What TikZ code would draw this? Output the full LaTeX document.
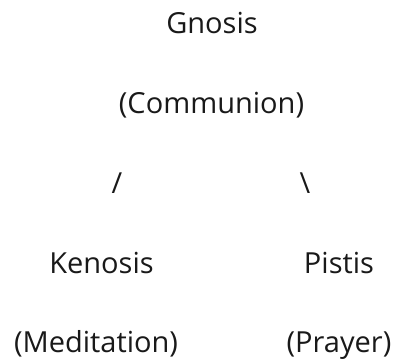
\documentclass[tikz,border=0pt]{standalone}
\usepackage{fontspec}
\setmainfont{Open Sans}
\begin{document}
\begin{tikzpicture}[x=1pt,y=1pt,
  lbl/.style={anchor=base,inner sep=0pt,font=\fontsize{29}{34}\selectfont,text=black!90}]
\useasboundingbox (0,0) rectangle (415,-359);
\node[lbl] (gnosis) at (212,-33) {Gnosis};
\node[lbl] (communion) at (211.5,-113) {(Communion)};
\node[lbl] (sl) at (117,-193) {/};
\node[lbl] (bs) at (305,-193) {\textbackslash};
\node[lbl] (kenosis) at (101.5,-273) {Kenosis};
\node[lbl] (pistis) at (339,-273) {Pistis};
\node[lbl] (meditation) at (96,-352) {(Meditation)};
\node[lbl] (prayer) at (339,-352) {(Prayer)};
\end{tikzpicture}
\end{document}
